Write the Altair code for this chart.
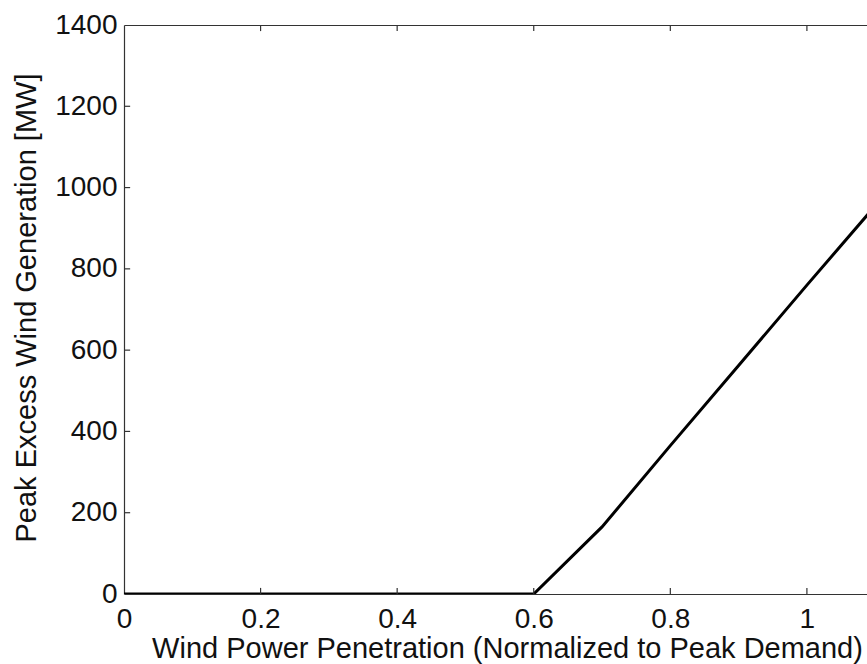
import altair as alt
import pandas as pd

# Data
penetration = [0.0, 0.1, 0.2, 0.3, 0.4, 0.5, 0.6, 0.7, 0.8, 0.9, 1.0, 1.1]
excess_mw = [0, 0, 0, 0, 0, 0, 0, 165, 365, 562, 760, 955]

x_ticks = [0.0, 0.2, 0.4, 0.6, 0.8, 1.0]
y_ticks = [0, 200, 400, 600, 800, 1000, 1200, 1400]
x_inner_ticks = [0.2, 0.4, 0.6, 0.8, 1.0]
y_inner_ticks = [200, 400, 600, 800, 1000, 1200]

X_MAX = 1.088   # visible part of the axis (figure cropped on the right)
Y_MAX = 1400
TICK_Y = 15      # inward tick length in data units (y)
TICK_X = 0.009   # inward tick length in data units (x)

W, H = 743, 569
FONT = "Liberation Sans"
FS = 28
TFS = 29
AX = "#333333"

df = pd.DataFrame({"x": penetration, "y": excess_mw})
xs = alt.Scale(domain=[0, X_MAX], nice=False, zero=False)
ys = alt.Scale(domain=[0, Y_MAX], nice=False)

line = alt.Chart(df).mark_line(color="black", strokeWidth=3, clip=True).encode(
    x=alt.X("x:Q", scale=xs, axis=alt.Axis(
        orient="bottom", values=x_ticks, format="~g", ticks=False, grid=False,
        domainColor=AX, domainWidth=1.2, labelFont=FONT, labelFontSize=FS,
        labelColor="#111111", labelPadding=11, labelFlush=False,
        title="Wind Power Penetration (Normalized to Peak Demand)",
        titleFont=FONT, titleFontSize=TFS, titleFontWeight="normal",
        titleColor="#111111", titleX=383, titleAlign="center",
        titleY=63, titleBaseline="alphabetic")),
    y=alt.Y("y:Q", scale=ys, axis=alt.Axis(
        orient="left", values=y_ticks, format="d", ticks=False, grid=False,
        domainColor=AX, domainWidth=1.2, labelFont=FONT, labelFontSize=FS,
        labelColor="#111111", labelPadding=7, labelFlush=False,
        title="Peak Excess Wind Generation [MW]", titleFont=FONT,
        titleFontSize=TFS, titleFontWeight="normal", titleColor="#111111",
        titleX=-89, titleY=H / 2 - 2, titleBaseline="alphabetic",
        titleAlign="center")),
)

bt = pd.DataFrame({"x": x_inner_ticks, "y": [0] * len(x_inner_ticks),
                   "y2": [TICK_Y] * len(x_inner_ticks)})
bottom_ticks = alt.Chart(bt).mark_rule(color=AX, strokeWidth=1.2).encode(
    x=alt.X("x:Q", scale=xs, axis=None),
    y=alt.Y("y:Q", scale=ys, axis=None),
    y2="y2:Q",
)

tt = pd.DataFrame({"x": x_inner_ticks, "y": [Y_MAX] * len(x_inner_ticks),
                   "y2": [Y_MAX - TICK_Y] * len(x_inner_ticks)})
top_ticks = alt.Chart(tt).mark_rule(color=AX, strokeWidth=1.2).encode(
    x=alt.X("x:Q", scale=xs, axis=alt.Axis(
        orient="top", labels=False, ticks=False, grid=False, title=None,
        domainColor=AX, domainWidth=1.2)),
    y=alt.Y("y:Q", scale=ys, axis=None),
    y2="y2:Q",
)

lt = pd.DataFrame({"y": y_inner_ticks, "x": [0] * len(y_inner_ticks),
                   "x2": [TICK_X] * len(y_inner_ticks)})
left_ticks = alt.Chart(lt).mark_rule(color=AX, strokeWidth=1.2).encode(
    y=alt.Y("y:Q", scale=ys, axis=None),
    x=alt.X("x:Q", scale=xs, axis=None),
    x2="x2:Q",
)

chart = (
    alt.layer(line, bottom_ticks, top_ticks, left_ticks)
    .resolve_axis(x="independent", y="independent")
    .properties(
        width=W, height=H,
        autosize=alt.AutoSizeParams(type="none"),
        padding={"left": 124, "top": 25, "right": 0, "bottom": 70},
        background="white",
    )
    .configure_view(stroke=None)
)

chart.save("out.html", embed_options={"renderer": "svg", "actions": False})
